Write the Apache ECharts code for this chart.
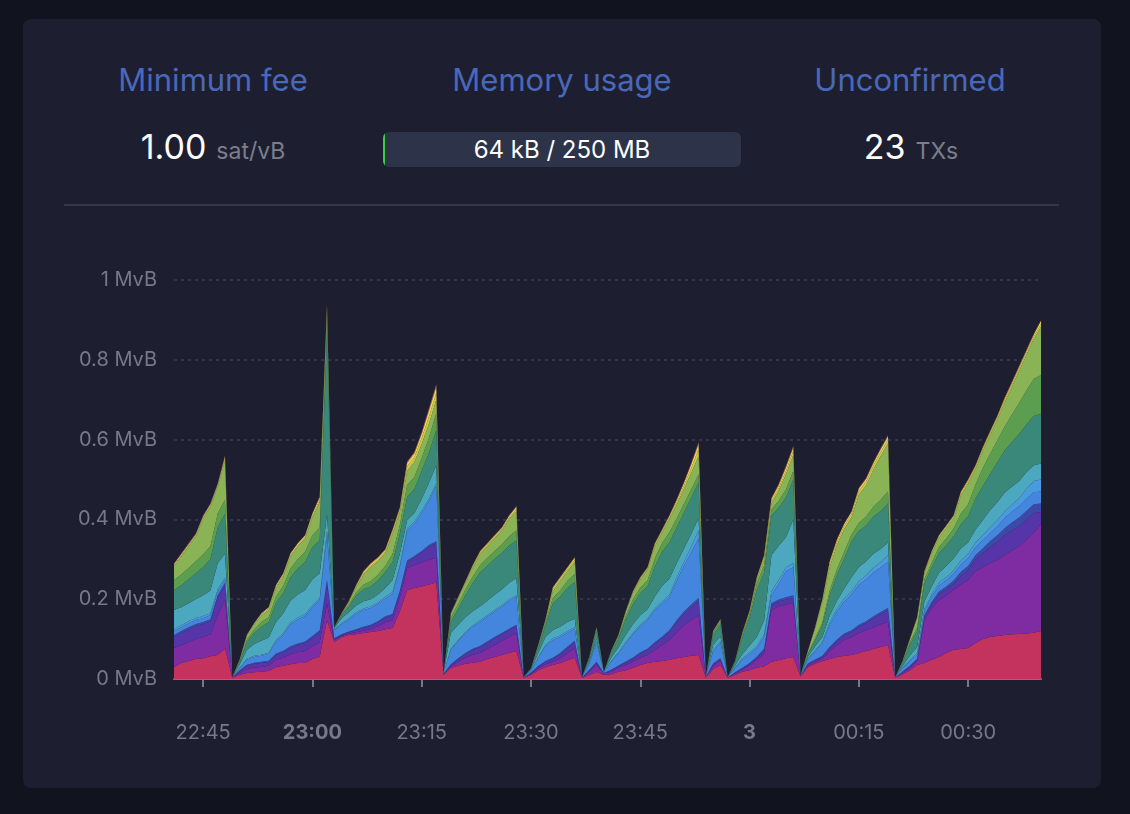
<!DOCTYPE html>
<html>
<head>
<meta charset="utf-8">
<script src="https://cdn.jsdelivr.net/npm/echarts@6/dist/echarts.min.js"></script>
<style>
  html, body { margin: 0; padding: 0; background: #11131f; width: 1130px; height: 814px; overflow: hidden; font-family: Inter, "Noto Sans", sans-serif; }
  #card { position: absolute; left: 23px; top: 19px; width: 1078px; height: 769px; background: #1d1f31; border-radius: 8px; }
  .title { position: absolute; top: 60px; width: 300px; text-align: center; color: #4a68b9; font-size: 31px; line-height: 40px; }
  .val { position: absolute; top: 125px; width: 300px; text-align: center; color: #fff; font-size: 34px; line-height: 44px; white-space: nowrap; }
  .val .unit { color: #7c7e8c; font-size: 23px; margin-left: 10px; }
  #bar { position: absolute; left: 383px; top: 132px; width: 358px; height: 35px; background: #2d3348; border-radius: 6px; overflow: hidden; }
  #bar .fill { position: absolute; left: 0; top: 0; width: 2px; height: 100%; background: #3bcc49; }
  #bar .txt { position: absolute; left: 0; right: 0; top: 0; line-height: 35px; text-align: center; color: #fff; font-size: 24px; }
  #divider { position: absolute; left: 64px; top: 204px; width: 995px; height: 2px; background: #353849; }
  #chart { position: absolute; left: 0; top: 0; width: 1130px; height: 814px; }
</style>
</head>
<body>
<div id="card"></div>
<div class="title" style="left:63px">Minimum fee</div>
<div class="title" style="left:412px">Memory usage</div>
<div class="title" style="left:760px">Unconfirmed</div>
<div class="val" style="left:63px">1.00<span class="unit">sat/vB</span></div>
<div id="bar"><div class="fill"></div><div class="txt">64 kB / 250 MB</div></div>
<div class="val" style="left:761px">23<span class="unit">TXs</span></div>
<div id="divider"></div>
<div id="chart"></div>
<script>
// Time of each sample (day 2 evening -> day 3 early morning)
const times = [
  '22:41','22:42','22:43','22:44','22:45','22:46','22:47','22:48','22:49','22:50',
  '22:51','22:52','22:53','22:54','22:55','22:56','22:57','22:58','22:59',
  '23:00','23:01','23:02','23:03','23:04','23:05','23:06','23:07','23:08','23:09',
  '23:10','23:11','23:12','23:13','23:14','23:15','23:16','23:17','23:18','23:19',
  '23:20','23:21','23:22','23:23','23:24','23:25','23:26','23:27','23:28','23:29',
  '23:30','23:31','23:32','23:33','23:34','23:35','23:36','23:37','23:38','23:39',
  '23:40','23:41','23:42','23:43','23:44','23:45','23:46','23:47','23:48','23:49',
  '23:50','23:51','23:52','23:53','23:54','23:55','23:56','23:57','23:58','23:59',
  '00:00','00:01','00:02','00:03','00:04','00:05','00:06','00:07','00:08','00:09',
  '00:10','00:11','00:12','00:13','00:14','00:15','00:16','00:17','00:18','00:19',
  '00:20','00:21','00:22','00:23','00:24','00:25','00:26','00:27','00:28','00:29',
  '00:30','00:31','00:32','00:33','00:34','00:35','00:36','00:37','00:38','00:39',
  '00:40'
].slice(0, 120);

// Stacked mempool size per fee band (MvB)
const fee1to2 = [
  .03,.04,.045,.05,.052,.057,.06,.077,.003,
  .01,.015,.017,.018,.02,.03,.033,.037,.04,.04,.05,.056,.148,.093,
  .105,.11,.112,.115,.118,.12,.125,.128,.17,.223,.228,.232,.237,.242,.01,
  .028,.033,.038,.041,.043,.05,.055,.06,.065,.07,.003,
  .01,.022,.03,.035,.04,.047,.053,.003,
  .01,.018,.01,
  .012,.018,.022,.028,.035,.04,.043,.045,.048,.052,.055,.058,.06,.004,
  .025,.035,.003,
  .01,.018,.022,.028,.032,.043,.047,.052,.055,.006,
  .03,.038,.045,.05,.055,.058,.06,.065,.07,.075,.08,.085,.003,
  .012,.022,.035,.04,.048,.055,.065,.073,.075,.078,.09,.1,.105,.108,.11,.112,.113,.114,.116,.12
];
const fee2to3 = [
  .048,.045,.047,.05,.053,.055,.1,.123,.001,
  .005,.01,.012,.012,.013,.018,.02,.025,.027,.03,.032,.037,.04,.004,
  .003,.004,.005,.006,.007,.012,.017,.02,.035,.055,.058,.06,.062,.062,.002,
  .004,.01,.015,.02,.022,.025,.03,.035,.04,.045,.001,
  .003,.005,.007,.008,.012,.018,.025,.001,
  .008,.017,.004,
  .006,.01,.013,.015,.018,.02,.03,.04,.05,.065,.08,.09,.1,.002,
  .008,.01,.001,
  .004,.005,.012,.02,.033,.13,.135,.135,.135,.002,
  .004,.005,.006,.02,.03,.04,.045,.05,.052,.055,.057,.058,.001,
  .004,.006,.01,.108,.13,.143,.145,.15,.162,.17,.18,.18,.185,.19,.2,.21,.22,.235,.25,.27
];
const fee3to4 = [
  .027,.03,.033,.033,.033,.033,.045,.035,0,
  .004,.008,.009,.01,.01,.012,.014,.016,.018,.02,.022,.025,.05,.003,
  .002,.003,.005,.007,.008,.01,.012,.012,.013,.015,.018,.025,.032,.036,.001,
  .003,.006,.009,.012,.015,.016,.017,.017,.018,.018,0,
  .002,.004,.006,.007,.01,.013,.015,0,
  .003,.005,.001,
  .003,.004,.006,.008,.011,.013,.016,.018,.02,.025,.028,.032,.035,0,
  .004,.005,0,
  .002,.003,.004,.005,.008,.012,.012,.012,.013,0,
  .003,.004,.004,.007,.01,.012,.013,.016,.018,.022,.026,.03,0,
  .002,.003,.004,.008,.01,.015,.015,.016,.022,.025,.03,.035,.04,.045,.05,.05,.05,.05,.05,.028
];
const fee4to5 = [
  .005,.005,.005,.005,.005,.005,.005,.006,0,
  .002,.003,.003,.003,.003,.004,.004,.004,.004,.004,.004,.004,.01,.002,
  .002,.002,.003,.003,.003,.003,.003,.003,.003,.004,.004,.004,.005,.005,0,
  .002,.003,.003,.003,.003,.003,.003,.003,.003,.003,0,
  .001,.002,.002,.003,.003,.003,.003,0,
  .002,.003,0,
  .002,.002,.003,.003,.003,.003,.003,.003,.004,.005,.006,.007,.008,0,
  .002,.002,0,
  .001,.002,.002,.003,.003,.005,.005,.006,.007,0,
  .002,.002,.003,.004,.004,.004,.004,.005,.005,.005,.005,.005,0,
  .001,.002,.002,.004,.005,.006,.007,.008,.01,.01,.01,.012,.015,.017,.018,.02,.022,.022,.022,.022
];
const fee5to6 = [
  .01,.01,.01,.01,.01,.01,.01,.008,.001,
  .005,.012,.014,.015,.017,.03,.04,.055,.06,.064,.072,.076,.11,.02,
  .025,.03,.038,.042,.042,.043,.045,.05,.06,.075,.08,.095,.11,.14,.002,
  .036,.043,.05,.055,.06,.062,.064,.066,.07,.07,.001,
  .005,.02,.038,.045,.04,.035,.03,.001,
  .015,.047,.002,
  .02,.03,.045,.058,.065,.072,.08,.083,.083,.1,.115,.13,.15,.002,
  .03,.038,.001,
  .01,.02,.022,.022,.03,.02,.04,.065,.07,.002,
  .01,.02,.032,.055,.07,.08,.09,.1,.105,.11,.112,.115,.001,
  .008,.012,.01,.01,.013,.015,.016,.017,.018,.02,.02,.02,.02,.022,.025,.027,.028,.03,.03,.03
];
const fee6to8 = [
  .005,.005,.005,.005,.005,.005,.005,.005,0,
  .002,.003,.003,.003,.003,.004,.004,.005,.005,.005,.005,.005,.015,.002,
  .003,.003,.004,.004,.004,.004,.004,.005,.005,.006,.006,.006,.006,.006,0,
  .003,.003,.003,.003,.004,.004,.004,.004,.004,.004,0,
  .001,.002,.003,.004,.004,.004,.004,0,
  .002,.004,0,
  .002,.003,.004,.004,.004,.004,.005,.005,.006,.008,.01,.015,.02,0,
  .004,.005,0,
  .002,.004,.004,.005,.006,.01,.01,.01,.01,0,
  .002,.003,.004,.006,.007,.008,.008,.009,.01,.012,.013,.017,0,
  .002,.003,.004,.006,.006,.007,.007,.008,.01,.01,.012,.013,.015,.016,.017,.018,.02,.025,.028,.03
];
const fee8to10 = [
  .048,.045,.045,.047,.052,.057,.065,.06,0,
  .008,.022,.03,.035,.038,.045,.05,.055,.058,.06,.065,.062,.04,.003,
  .012,.015,.017,.018,.018,.02,.022,.03,.028,.02,.022,.03,.04,.045,0,
  .04,.038,.037,.036,.035,.036,.038,.039,.041,.043,0,
  .002,.01,.02,.021,.022,.023,.021,0,
  .004,.006,.001,
  .008,.012,.017,.022,.024,.023,.03,.04,.04,.035,.033,.032,.03,0,
  .012,.012,0,
  .005,.01,.018,.022,.035,.09,.085,.075,.11,0,
  .005,.01,.011,.017,.02,.025,.035,.036,.035,.035,.033,.033,0,
  .004,.01,.015,.018,.02,.025,.028,.03,.03,.03,.032,.038,.043,.045,.047,.045,.043,.042,.04,.04
];
const fee10to12 = [
  .05,.055,.06,.065,.07,.078,.09,.1,0,
  .006,.02,.027,.035,.038,.048,.05,.058,.065,.07,.08,.083,.46,.002,
  .008,.015,.025,.03,.032,.035,.04,.045,.05,.058,.06,.07,.075,.088,0,
  .028,.04,.055,.07,.085,.088,.09,.092,.093,.095,0,
  .002,.012,.03,.067,.075,.085,.092,0,
  .008,.02,0,
  .012,.022,.04,.05,.055,.057,.075,.085,.092,.09,.09,.09,.09,0,
  .025,.03,0,
  .008,.042,.07,.118,.12,.1,.095,.1,.1,0,
  .006,.015,.03,.05,.065,.075,.09,.09,.09,.093,.095,.097,0,
  .008,.028,.04,.046,.048,.05,.052,.055,.06,.065,.078,.085,.09,.1,.105,.112,.118,.12,.123,.125
];
const fee12to15 = [
  .025,.027,.028,.03,.032,.033,.035,.035,0,
  .002,.006,.009,.012,.013,.016,.018,.022,.024,.026,.03,.032,.03,.001,
  .002,.005,.008,.011,.013,.014,.015,.02,.022,.03,.03,.032,.038,.042,0,
  .011,.012,.014,.016,.018,.019,.02,.021,.024,.025,0,
  .001,.004,.007,.013,.016,.018,.02,0,
  .002,.005,0,
  .003,.004,.008,.012,.014,.015,.02,.022,.025,.022,.022,.021,.02,0,
  .006,.007,0,
  .002,.006,.008,.017,.018,.015,.018,.02,.021,0,
  .002,.005,.007,.012,.015,.017,.017,.02,.022,.025,.028,.03,0,
  .002,.006,.01,.01,.012,.015,.017,.02,.027,.03,.035,.045,.05,.055,.06,.068,.078,.085,.093,.097
];
const fee15to20 = [
  .034,.045,.054,.062,.09,.099,.067,.098,0,
  .002,.008,.012,.016,.018,.02,.024,.03,.031,.033,.045,.063,.02,0,
  .002,.005,.012,.025,.035,.034,.032,.05,.032,.035,.038,.035,.035,.034,0,
  .008,.013,.016,.022,.027,.029,.031,.035,.043,.047,0,
  0,.003,.005,.017,.023,.024,.03,0,
  .001,.003,0,
  .002,.004,.009,.015,.02,.027,.03,.026,.033,.035,.038,.042,.045,0,
  .003,.004,0,
  .001,.003,.005,.009,.015,.015,.025,.038,.04,0,
  .005,.024,.049,.06,.06,.057,.044,.07,.078,.093,.11,.12,0,
  .002,.007,.022,.015,.022,.023,.026,.026,.045,.052,.039,.043,.048,.052,.06,.07,.08,.089,.1,.12
];
const fee20to30 = [
  .003,.003,.003,.003,.003,.003,.003,.005,0,
  .001,.002,.003,.004,.004,.004,.004,.004,.004,.004,.005,.006,.006,0,
  .001,.002,.003,.004,.004,.004,.004,.005,.005,.012,.012,.015,.018,.017,0,
  .001,.002,.002,.003,.004,.004,.004,.004,.004,.006,0,
  0,.001,.001,.005,.005,.005,.005,0,
  0,.001,0,
  0,.001,.002,.003,.003,.003,.004,.004,.004,.006,.008,.012,.018,0,
  .001,.001,0,
  0,.001,.002,.003,.005,.006,.007,.009,.011,0,
  .001,.002,.005,.008,.008,.008,.008,.01,.01,.01,.01,.011,0,
  0,.001,.002,.003,.003,.003,.004,.004,.005,.005,.005,.005,.005,.005,.006,.006,.006,.006,.006,.008
];
const fee30to40 = [
  .003,.003,.003,.003,.003,.003,.003,.005,0,
  .0005,.001,.001,.002,.003,.004,.004,.004,.004,.004,.005,.006,.006,0,
  0,.001,.003,.004,.004,.004,.004,.005,.005,.008,.009,.01,.014,.015,0,
  .001,.002,.002,.003,.003,.003,.003,.003,.004,.005,0,
  0,0,.001,.004,.004,.004,.005,0,
  0,.001,0,
  0,0,.001,.002,.002,.002,.003,.003,.004,.005,.006,.009,.012,0,
  0,.001,0,
  0,.001,.002,.003,.004,.005,.006,.008,.008,0,
  0,.002,.004,.005,.005,.005,.005,.006,.006,.006,.007,.007,0,
  0,0,.001,.002,.003,.003,.003,.003,.004,.004,.003,.003,.003,.003,.004,.004,.004,.004,.004,.008
];
const fee40to50 = [
  .001,.001,.001,.001,.001,.001,.001,.002,0,
  0,0,0,0,0,0,0,0,0,0,0,.002,.003,0,
  0,0,0,.001,.002,.002,.002,.002,.002,.003,.003,.004,.005,.005,0,
  0,0,.001,.001,.001,.001,.001,.001,.001,.002,0,
  0,0,0,.001,.001,.001,.002,0,
  0,0,0,
  0,0,0,0,.001,.001,.001,.001,.001,.002,.002,.003,.004,0,
  0,0,0,
  0,0,0,0,.001,.002,.003,.003,.003,0,
  0,0,0,.001,.001,.001,.001,.002,.002,.002,.002,.002,0,
  0,0,0,0,0,0,0,0,.001,.001,.001,.001,.001,.001,.002,.002,.002,.002,.002,.004
];
const fee50plus = [
  .002,.002,.002,.002,.002,.002,.002,.002,0,
  .001,.001,.001,.001,.001,.001,.001,.001,.001,.001,.001,.002,.002,0,
  .001,.001,.001,.001,.001,.001,.001,.001,.001,.002,.002,.002,.003,.003,0,
  .001,.001,.001,.001,.001,.001,.001,.001,.001,.002,0,
  0,.001,.001,.001,.001,.001,.001,0,
  0,.001,0,
  .001,.001,.001,.001,.001,.001,.001,.001,.001,.001,.002,.002,.003,0,
  .001,.001,0,
  0,.001,.001,.001,.001,.002,.002,.002,.002,0,
  .001,.001,.001,.001,.001,.001,.001,.001,.002,.002,.002,.002,0,
  0,.001,.001,.001,.001,.001,.001,.001,.001,.001,.001,.001,.001,.001,.001,.001,.001,.001,.001,.003
];

const bandNames = ['1-2','2-3','3-4','4-5','5-6','6-8','8-10','10-12','12-15','15-20','20-30','30-40','40-50','50+'];
const bandColors = ['#c4325e','#7f2ca3','#5635a9','#3d49a7','#4486dd','#4a9ae0','#4ba8be','#3a887a','#5b9e50','#8ab356','#c6c84c','#f0d654','#f4a93c','#5e2a8e'];
const bands = [fee1to2, fee2to3, fee3to4, fee4to5, fee5to6, fee6to8, fee8to10, fee10to12, fee12to15, fee15to20, fee20to30, fee30to40, fee40to50, fee50plus];

function toTime(s) {
  const [h, m] = s.split(':').map(Number);
  const day = h >= 12 ? 2 : 3;
  return new Date(2024, 0, day, h, m, 0).getTime();
}
const ts = times.map(toTime);

const FONT = 'Inter, "Noto Sans", sans-serif';
const LABEL = '#777989';
const MIN = 60 * 1000;

const chart = echarts.init(document.getElementById('chart'), null, { renderer: 'canvas' });
chart.setOption({
  animation: false,
  backgroundColor: 'transparent',
  grid: { left: 174, right: 89, top: 280, bottom: 135, containLabel: false },
  xAxis: {
    type: 'time',
    min: ts[0],
    max: ts[ts.length - 1],
    minInterval: 18 * MIN,
    maxInterval: 18 * MIN,
    boundaryGap: false,
    axisLine: { lineStyle: { color: '#76788a', width: 2 } },
    axisTick: { show: true, length: 8, lineStyle: { color: '#76788a', width: 2 } },
    splitLine: { show: false },
    axisLabel: {
      margin: 44,
      color: LABEL,
      fontFamily: FONT,
      fontSize: 20,
      showMinLabel: false,
      showMaxLabel: false,
      formatter: function (value) {
        const d = new Date(value);
        const h = d.getHours(), m = d.getMinutes();
        const hh = String(h).padStart(2, '0'), mm = String(m).padStart(2, '0');
        if (h === 0 && m === 0) return '{b|' + d.getDate() + '}';
        if (m === 0) return '{b|' + hh + ':' + mm + '}';
        return hh + ':' + mm;
      },
      rich: { b: { fontWeight: 'bold', color: LABEL, fontFamily: FONT, fontSize: 20 } }
    }
  },
  yAxis: {
    type: 'value',
    min: 0,
    max: 1,
    interval: 0.2,
    axisLine: { show: false },
    axisTick: { show: false },
    splitLine: { lineStyle: { color: '#3a3d52', type: [3, 4], width: 1.5 } },
    axisLabel: {
      margin: 17,
      color: LABEL,
      fontFamily: FONT,
      fontSize: 20,
      formatter: function (v) { return parseFloat(v.toFixed(2)) + ' MvB'; }
    }
  },
  series: bands.map(function (vals, i) {
    return {
      name: bandNames[i],
      type: 'line',
      stack: 'fees',
      symbol: 'none',
      smooth: false,
      lineStyle: { width: 0 },
      areaStyle: { color: bandColors[i], opacity: 1 },
      itemStyle: { color: bandColors[i] },
      data: ts.map(function (t, k) { return [t, vals[k]]; })
    };
  })
});
</script>
</body>
</html>
